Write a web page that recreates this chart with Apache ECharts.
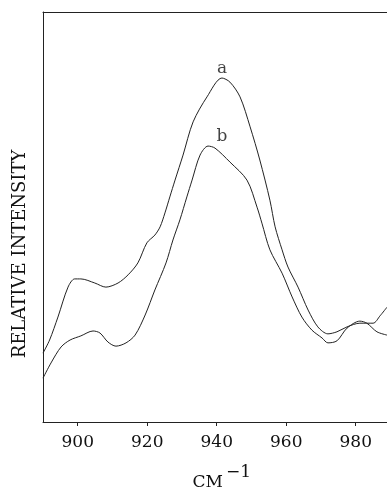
<!DOCTYPE html>
<html>
<head>
<meta charset="utf-8">
<script src="https://cdn.jsdelivr.net/npm/echarts@6/dist/echarts.min.js"></script>
<style>
html,body{margin:0;padding:0;background:#fff;}
#chart{width:387px;height:491px;}
</style>
</head>
<body>
<div id="chart"></div>
<script>
// Wavenumbers (cm-1) and relative intensities
const waveA = [890.0,891.9,894.3,897.2,899.1,900.9,904.9,908.1,911.6,914.5,917.3,919.9,922.2,923.7,925.1,926.5,928.0,930.3,933.2,937.2,941.5,943.8,946.7,949.6,952.4,955.3,956.8,958.8,960.5,963.4,966.3,969.1,972.0,974.6,977.5,981.2,985.0,987.0,989.0];
const intA  = [16.8,20.0,25.6,32.9,34.9,34.9,33.9,32.9,33.9,35.9,38.8,43.7,45.6,47.6,51.0,54.9,59.0,65.1,73.2,79.3,83.9,82.9,79.3,72.0,63.9,54.1,47.6,42.0,37.8,32.9,27.3,23.2,21.5,22.0,23.2,24.1,24.1,25.9,28.0];
const waveB = [890.0,892.3,895.2,897.8,900.9,904.4,906.4,908.7,911.0,913.9,916.5,919.4,922.2,925.4,927.4,929.4,931.4,932.9,935.2,937.5,939.5,943.8,948.7,951.6,953.0,955.3,958.8,961.7,964.5,967.4,970.3,972.0,974.6,977.5,981.2,983.2,986.1,989.0];
const intB  = [10.7,14.4,18.3,20.0,21.0,22.2,21.7,19.5,18.5,19.3,21.2,26.1,32.2,38.8,44.4,49.3,54.9,59.0,65.1,67.3,66.8,63.4,59.0,52.4,48.5,42.0,36.3,30.5,25.6,22.4,20.5,19.3,19.8,22.9,24.6,24.1,22.0,21.2];
const xTicks = [900, 920, 940, 960, 980];
const curveLabels = ['a', 'b'];
const labelX = [941.5, 941.5];
const labelY = [86.3, 69.5];
const xTitle = 'CM';
const xTitleSup = '\u22121';
const yTitle = 'RELATIVE INTENSITY';

const serif = 'DejaVu Serif';
const ink = '#222';

const chart = echarts.init(document.getElementById('chart'), null, {renderer: 'canvas'});
chart.setOption({
  backgroundColor: '#fff',
  animation: false,
  grid: {left: 43, right: 0, top: 12, bottom: 69, containLabel: false},
  xAxis: [{
    type: 'value', min: 890, max: 989, position: 'bottom',
    axisLine: {show: true, onZero: false, lineStyle: {color: ink, width: 1}},
    axisTick: {show: true, length: 4, inside: false, customValues: xTicks, lineStyle: {color: ink}},
    axisLabel: {show: true, customValues: xTicks, margin: 12, color: '#111', fontFamily: serif, fontSize: 17},
    splitLine: {show: false}
  }, {
    type: 'value', min: 890, max: 989, position: 'top',
    axisLine: {show: true, onZero: false, lineStyle: {color: ink, width: 1}},
    axisTick: {show: false}, axisLabel: {show: false}, splitLine: {show: false}
  }],
  yAxis: {
    type: 'value', min: 0, max: 100,
    axisLine: {show: true, onZero: false, lineStyle: {color: ink, width: 1}},
    axisTick: {show: false}, axisLabel: {show: false}, splitLine: {show: false}
  },
  series: [{
    name: 'a', type: 'line', smooth: 0.3, symbol: 'none',
    lineStyle: {color: ink, width: 1},
    data: waveA.map((x, i) => [x, intA[i]])
  }, {
    name: 'b', type: 'line', smooth: 0.3, symbol: 'none',
    lineStyle: {color: ink, width: 1},
    data: waveB.map((x, i) => [x, intB[i]])
  }, {
    name: 'labels', type: 'scatter', symbolSize: 0, silent: true,
    label: {show: true, position: 'inside', formatter: p => curveLabels[p.dataIndex], fontFamily: serif, fontSize: 17, color: '#111'},
    data: labelX.map((x, i) => [x, labelY[i]])
  }],
  graphic: [{
    type: 'text', x: 20, y: 254, rotation: Math.PI / 2,
    style: {text: yTitle, fontFamily: serif, fontSize: 18, fill: '#111', align: 'center', verticalAlign: 'middle'}
  }, {
    type: 'text', x: 223, y: 483,
    style: {text: xTitle, fontFamily: serif, fontSize: 17, fill: '#111', align: 'right', verticalAlign: 'middle'}
  }, {
    type: 'text', x: 226, y: 473,
    style: {text: xTitleSup, fontFamily: serif, fontSize: 17, fill: '#111', align: 'left', verticalAlign: 'middle'}
  }]
});
</script>
</body>
</html>
